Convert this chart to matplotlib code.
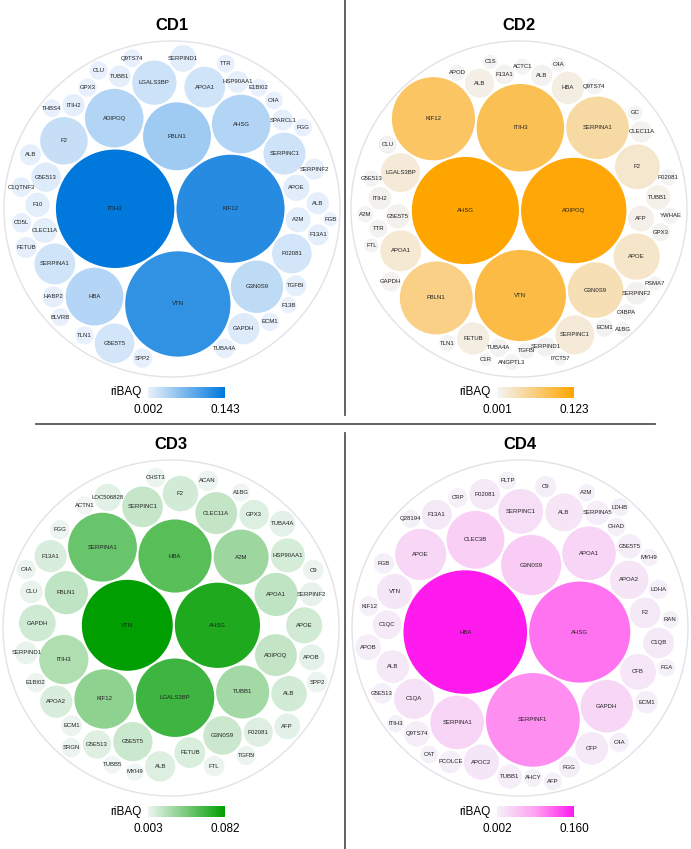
import numpy as np
import matplotlib
matplotlib.use("Agg")
import matplotlib.pyplot as plt
from matplotlib.colors import LinearSegmentedColormap, Normalize
from matplotlib.patches import Circle
from matplotlib.lines import Line2D
from matplotlib.cm import ScalarMappable

plt.rcParams["font.family"] = ["Liberation Sans", "DejaVu Sans"]

# ---- data (riBAQ per protein) ----
CD1_NAMES = ["ITIH3", "KIF12", "VTN", "FBLN1", "ADIPOQ", "AHSG", "HBA", "G3N0S9", "F2", "LGALS3BP",
             "SERPINC1", "APOA1", "SERPINA1", "P02081", "G5E5T5", "GAPDH", "G5E513", "SERPIND1", "APOE", "CLEC11A",
             "A2M", "F10", "ALB", "ITIH2", "TUBB1", "HSP90AA1", "SPARCL1", "HABP2", "TGFBI", "ALB",
             "SERPINF2", "FETUB", "F13A1", "TUBA4A", "SPP2", "CD5L", "C1QTNF3", "ECM1", "GPX3", "CLU",
             "TLN1", "C4A", "E1BI02", "THBS4", "Q9TS74", "TTR", "FGG", "BLVRB", "F13B", "FGB"]
CD1_VALUES = [0.143, 0.119, 0.113, 0.047, 0.035, 0.035, 0.034, 0.028, 0.023, 0.020,
              0.018, 0.017, 0.017, 0.016, 0.016, 0.010, 0.0088, 0.0073, 0.0070, 0.0063,
              0.0063, 0.0060, 0.0050, 0.0050, 0.0048, 0.0048, 0.0045, 0.0045, 0.0045, 0.0045,
              0.0045, 0.0045, 0.0045, 0.0039, 0.0039, 0.0039, 0.0039, 0.0034, 0.0034, 0.0034,
              0.0034, 0.0032, 0.0032, 0.0032, 0.0032, 0.0032, 0.0032, 0.0032, 0.0027, 0.0021]

CD2_NAMES = ["AHSG", "ADIPOQ", "VTN", "ITIH3", "KIF12", "FBLN1", "SERPINA1", "G3N0S9", "APOE", "F2",
             "APOA1", "LGALS3BP", "SERPINC1", "HBA", "FETUB", "ALB", "AFP", "TUBB1", "G5E5T5", "ITIH2",
             "SERPINF2", "ALB", "CLEC11A", "SERPIND1", "F13A1", "GAPDH", "TUBA4A", "CLU", "TTR", "GPX3",
             "ECM1", "Q9TS74", "ACTC1", "TGFBI", "APOD", "TLN1", "ANGPTL3", "A2M", "YWHAE", "C4BPA",
             "G5E513", "P02081", "C4A", "C1S", "A1BG", "FTL", "GC", "PSMA7", "C1R", "I7CT57"]
CD2_VALUES = [0.123, 0.119, 0.089, 0.082, 0.074, 0.057, 0.042, 0.033, 0.023, 0.0215,
              0.018, 0.0163, 0.0163, 0.0113, 0.0113, 0.0091, 0.0072, 0.0065, 0.0062, 0.0055,
              0.0055, 0.0049, 0.0049, 0.0041, 0.0041, 0.0041, 0.0035, 0.0035, 0.0035, 0.0035,
              0.0035, 0.0028, 0.0028, 0.0028, 0.0028, 0.0028, 0.0028, 0.0028, 0.0028, 0.0028,
              0.0028, 0.0028, 0.0022, 0.0022, 0.0022, 0.0022, 0.0022, 0.0022, 0.0018, 0.0018]

CD3_NAMES = ["VTN", "AHSG", "LGALS3BP", "HBA", "SERPINA1", "KIF12", "A2M", "TUBB1", "ITIH3", "FBLN1",
             "APOA1", "ADIPOQ", "CLEC11A", "SERPINC1", "G5E5T5", "G3N0S9", "GAPDH", "APOE", "F2", "ALB",
             "HSP90AA1", "APOA2", "F13A1", "FETUB", "ALB", "GPX3", "P02081", "G5E513", "LOC506828", "AFP",
             "TUBA4A", "APOB", "SERPINF2", "CLU", "SERPIND1", "SPP2", "ECM1", "C9", "FTL", "ACAN",
             "C4A", "CHST3", "FGG", "SRGN", "E1BI02", "TGFBI", "A1BG", "ACTN1", "TUBB5", "MYH9"]
CD3_VALUES = [0.082, 0.072, 0.061, 0.053, 0.047, 0.035, 0.030, 0.028, 0.024, 0.0185,
              0.0185, 0.0174, 0.0174, 0.0164, 0.0153, 0.0148, 0.0134, 0.0129, 0.0125, 0.0125,
              0.0116, 0.0103, 0.0103, 0.0095, 0.0091, 0.0087, 0.0084, 0.0080, 0.0073, 0.0066,
              0.0066, 0.0066, 0.0056, 0.0051, 0.0051, 0.0042, 0.0042, 0.0042, 0.0042, 0.0042,
              0.0037, 0.0037, 0.0037, 0.0037, 0.0037, 0.0037, 0.0032, 0.0032, 0.0032, 0.0030]

CD4_NAMES = ["HBA", "AHSG", "SERPINF1", "G3N0S9", "CLEC3B", "SERPINA1", "APOA1", "GAPDH", "APOE", "SERPINC1",
             "C1QA", "APOA2", "ALB", "CFB", "APOC2", "VTN", "CFP", "ALB", "F2", "P02081",
             "C1QB", "F13A1", "C1QC", "APOB", "Q9TS74", "G5E5T5", "SERPINA5", "TUBB1", "ECM1", "PCOLCE",
             "C9", "FGG", "G5E513", "FGB", "LDHA", "CRP", "KIF12", "C4A", "CHAD", "CAT",
             "LDHB", "PLTP", "AHCY", "AFP", "Q28194", "MYH9", "ITIH3", "FGA", "RAN", "A2M"]
CD4_VALUES = [0.160, 0.107, 0.092, 0.038, 0.035, 0.030, 0.030, 0.029, 0.0275, 0.021,
              0.017, 0.0155, 0.015, 0.0135, 0.013, 0.013, 0.0112, 0.0112, 0.0099, 0.0099,
              0.0099, 0.0095, 0.0087, 0.0069, 0.0069, 0.0062, 0.0062, 0.0062, 0.0053, 0.0053,
              0.0047, 0.0047, 0.0044, 0.0044, 0.0039, 0.0039, 0.0039, 0.0039, 0.0034, 0.0034,
              0.0034, 0.0034, 0.0034, 0.0034, 0.0034, 0.0031, 0.0031, 0.0031, 0.0031, 0.0031]

TITLES = ["CD1", "CD2", "CD3", "CD4"]
RANGES = [(0.002, 0.143), (0.001, 0.123), (0.003, 0.082), (0.002, 0.160)]
CMAPS = [
    ["#e9f1fc", "#0078dc"],
    ["#f3f4f6", "#ffa500"],
    ["#eef5f2", "#009e00"],
    ["#f4f1f8", "#ffa0f2", "#ff1aee"],
]

W, H = 691, 849
# outer circle centre (px from top-left), colourbar box left/top
CENTERS = [(172, 209), (519, 209), (171, 628), (520, 628)]
CBAR_POS = [(148, 387), (497, 387), (148, 806), (497, 806)]
R_OUT_PX = 168
HALF_PX = 172


# ---- front-chain circle packing (same scheme as d3.packSiblings) ----
def place(b, a, c, X, Y, R):
    dx, dy = X[b] - X[a], Y[b] - Y[a]
    d2 = dx * dx + dy * dy
    if d2:
        a2 = (R[a] + R[c]) ** 2
        b2 = (R[b] + R[c]) ** 2
        if a2 > b2:
            x = (d2 + b2 - a2) / (2 * d2)
            y = np.sqrt(max(0.0, b2 / d2 - x * x))
            X[c] = X[b] - x * dx - y * dy
            Y[c] = Y[b] - x * dy + y * dx
        else:
            x = (d2 + a2 - b2) / (2 * d2)
            y = np.sqrt(max(0.0, a2 / d2 - x * x))
            X[c] = X[a] + x * dx - y * dy
            Y[c] = Y[a] + x * dy + y * dx
    else:
        X[c] = X[a] + R[c]
        Y[c] = Y[a]


def pack_siblings(R):
    n = len(R)
    X, Y = np.zeros(n), np.zeros(n)

    def hits(p, q):
        dr = R[p] + R[q] - 1e-6
        return dr > 0 and dr * dr > (X[q] - X[p]) ** 2 + (Y[q] - Y[p]) ** 2

    def score(p):
        q = nxt[p]
        ab = R[p] + R[q]
        sx = (X[p] * R[q] + X[q] * R[p]) / ab
        sy = (Y[p] * R[q] + Y[q] * R[p]) / ab
        return sx * sx + sy * sy

    X[0] = -R[1]
    X[1] = R[0]
    place(1, 0, 2, X, Y, R)
    nxt, prv = {}, {}
    a, b, c = 0, 1, 2
    nxt[a] = b; prv[c] = b
    nxt[b] = c; prv[a] = c
    nxt[c] = a; prv[b] = a

    i = 3
    while i < n:
        place(a, b, i, X, Y, R)
        c = i
        j, k, sj, sk = nxt[b], prv[a], R[b], R[a]
        retry = False
        while True:
            if sj <= sk:
                if hits(j, c):
                    b = j; nxt[a] = b; prv[b] = a
                    retry = True
                    break
                sj += R[j]; j = nxt[j]
            else:
                if hits(k, c):
                    a = k; nxt[a] = b; prv[b] = a
                    retry = True
                    break
                sk += R[k]; k = prv[k]
            if j == nxt[k]:
                break
        if retry:
            continue
        prv[c] = a; nxt[c] = b; nxt[a] = c; prv[b] = c; b = c
        aa = score(a)
        cc = nxt[c]
        while cc != b:
            ca = score(cc)
            if ca < aa:
                a, aa = cc, ca
            cc = nxt[cc]
        b = nxt[a]
        i += 1
    return X, Y


def enclose(X, Y, R):
    f = lambda cx, cy: np.max(np.hypot(X - cx, Y - cy) + R)
    cx, cy = np.average(X, weights=R ** 2), np.average(Y, weights=R ** 2)
    best = f(cx, cy)
    step = R.max()
    angs = np.linspace(0, 2 * np.pi, 24, endpoint=False)
    while step > 1e-7 * R.max():
        moved = False
        for t in angs:
            nx, ny = cx + step * np.cos(t), cy + step * np.sin(t)
            v = f(nx, ny)
            if v < best:
                cx, cy, best, moved = nx, ny, v, True
        if not moved:
            step /= 2
    return cx, cy, best


def layout(values, pad_px=1.1):
    r = np.sqrt(values) * 100
    X0, Y0 = pack_siblings(r)
    R0 = enclose(X0, Y0, r)[2]
    pad = pad_px * R0 / R_OUT_PX
    X, Y = pack_siblings(r + pad)
    cx, cy, e = enclose(X, Y, r + pad)
    return X - cx, Y - cy, r, e + pad


fig = plt.figure(figsize=(W / 100, H / 100), dpi=100)

panels = [(CD1_NAMES, CD1_VALUES), (CD2_NAMES, CD2_VALUES),
          (CD3_NAMES, CD3_VALUES), (CD4_NAMES, CD4_VALUES)]

for idx, (names, vals) in enumerate(panels):
    names = np.array(names)
    vals = np.array(vals, dtype=float)
    assert len(names) == len(vals)
    order = np.argsort(-vals, kind="stable")
    names, vals = names[order], vals[order]

    X, Y, r, r_out = layout(vals)
    Y = -Y  # screen-down layout -> axes up

    vmin, vmax = RANGES[idx]
    cmap = LinearSegmentedColormap.from_list(f"c{idx}", CMAPS[idx])
    norm = Normalize(vmin, vmax)

    cxp, cyp = CENTERS[idx]
    ax = fig.add_axes([(cxp - HALF_PX) / W, 1 - (cyp + HALF_PX) / H, 2 * HALF_PX / W, 2 * HALF_PX / H])
    lim = r_out * HALF_PX / R_OUT_PX
    ax.set_xlim(-lim, lim)
    ax.set_ylim(-lim, lim)
    ax.axis("off")

    ax.add_patch(Circle((0, 0), r_out, facecolor="white", edgecolor="#e2e2e8", lw=1.0))
    for n, v, x, y, rr in zip(names, vals, X, Y, r):
        ax.add_patch(Circle((x, y), rr, facecolor=cmap(norm(v)), edgecolor="none"))
        ax.text(x, y, n, ha="center", va="center", fontsize=4.3, color="#222222")

    fig.text(cxp / W, 1 - 26 / H if idx < 2 else 1 - 444 / H, TITLES[idx],
             ha="center", va="center", fontsize=12, fontweight="bold")

    bx, by = CBAR_POS[idx]
    cax = fig.add_axes([bx / W, 1 - (by + 11) / H, 77 / W, 11 / H])
    cb = fig.colorbar(ScalarMappable(norm=norm, cmap=cmap), cax=cax,
                      orientation="horizontal", ticks=[vmin, vmax])
    cb.outline.set_visible(False)
    cb.ax.set_xticklabels([f"{vmin:.3f}", f"{vmax:.3f}"])
    cb.ax.tick_params(length=0, labelsize=8.5, pad=4)
    cax.text(-0.09, 0.5, "riBAQ", transform=cax.transAxes, ha="right", va="center", fontsize=8.5)

# panel dividers
line_kw = dict(transform=fig.transFigure, color="#555555", lw=1.3)
fig.add_artist(Line2D([345 / W, 345 / W], [1, 1 - 415 / H], **line_kw))
fig.add_artist(Line2D([345 / W, 345 / W], [1 - 433 / H, 0], **line_kw))
fig.add_artist(Line2D([36 / W, 655 / W], [1 - 424 / H, 1 - 424 / H], **line_kw))

fig.savefig("out.png", dpi=100, facecolor="white")
